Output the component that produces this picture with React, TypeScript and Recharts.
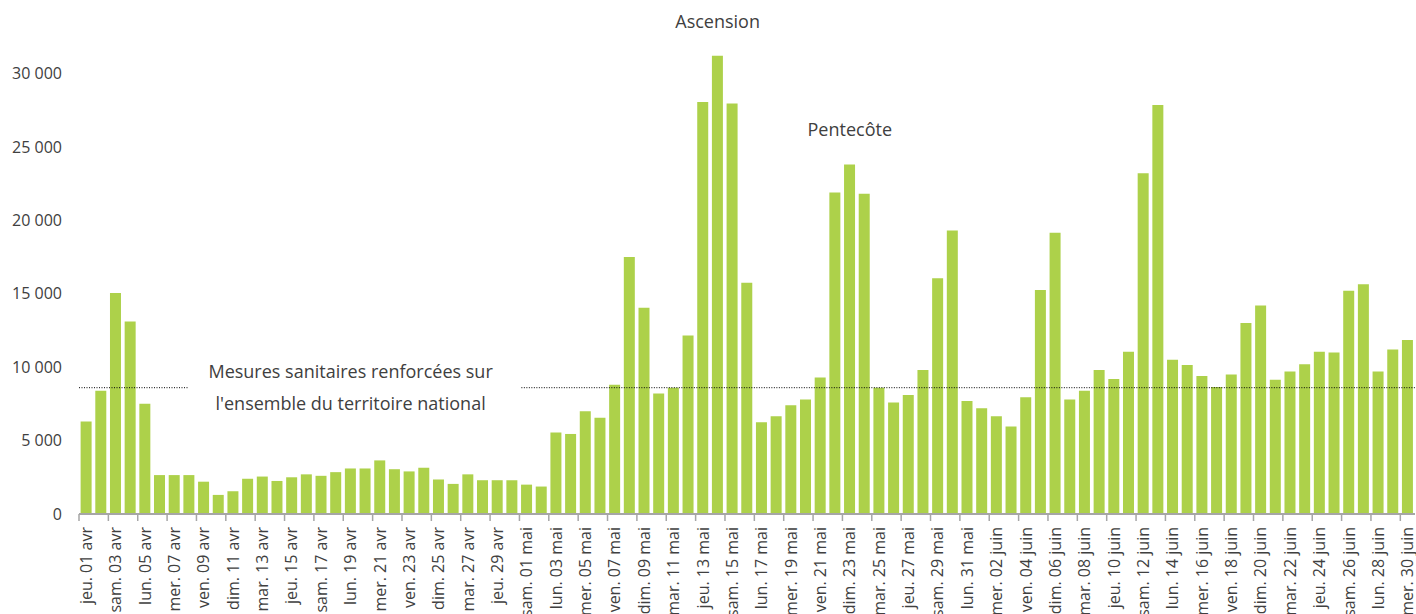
import React from "react";
import {
  BarChart, Bar, XAxis, YAxis, ReferenceLine, ReferenceDot,
} from "recharts";

// calendrier 01 avr -> 30 juin 2021
const WEEKDAYS = ["jeu.", "ven.", "sam.", "dim.", "lun.", "mar.", "mer."];
const MONTHS = [
  { name: "avr", days: 30 },
  { name: "mai", days: 31 },
  { name: "juin", days: 30 },
];

const valuesAvr = [
  6300, 8400, 15050, 13100, 7500, 2650, 2650, 2650, 2200, 1300,
  1550, 2400, 2550, 2250, 2500, 2700, 2600, 2850, 3100, 3100,
  3650, 3050, 2900, 3150, 2350, 2050, 2700, 2300, 2300, 2300,
];
const valuesMai = [
  2000, 1870, 5550, 5450, 7000, 6550, 8800, 17500, 14050, 8200,
  8600, 12150, 28050, 31200, 27950, 15750, 6250, 6650, 7400, 7800,
  9300, 21900, 23800, 21800, 8600, 7600, 8100, 9800, 16050, 19300,
  7700,
];
const valuesJuin = [
  7200, 6650, 5950, 7950, 15250, 19150, 7800, 8400, 9800, 9200,
  11050, 23200, 27850, 10500, 10150, 9400, 8650, 9500, 13000, 14200,
  9150, 9700, 10200, 11050, 11000, 15200, 15650, 9700, 11200, 11850,
];

const yTicks = [0, 5000, 10000, 15000, 20000, 25000, 30000];

// niveau de la ligne pointillée et ses deux tronçons (en positions de jours)
const mesuresLevel = 8600;
const mesuresSegA = [0, 7.4];
const mesuresSegB = [29.8, 91];

const annotations = [
  { day: "ven. 14 mai", y: 33500, lines: ["Ascension"] },
  { day: "dim. 23 mai", y: 26150, lines: ["Pentecôte"] },
  {
    day: "lun. 19 avr",
    y: mesuresLevel,
    lines: ["Mesures sanitaires renforcées sur", "l'ensemble du territoire national"],
  },
];

const labels: string[] = [];
MONTHS.forEach((m) => {
  for (let d = 1; d <= m.days; d++) {
    const wd = WEEKDAYS[labels.length % 7];
    labels.push(`${wd} ${String(d).padStart(2, "0")} ${m.name}`);
  }
});
const values = [...valuesAvr, ...valuesMai, ...valuesJuin];
const data = labels.map((label, i) => ({ label, value: values[i] }));

const WIDTH = 1416;
const HEIGHT = 614;
const LEFT = 79;
const RIGHT = 1;
const BAND = (WIDTH - LEFT - RIGHT) / data.length;
const FONT = "'Open Sans', sans-serif";
const TEXT = "#404040";
const AXIS = "#a6a6a6";

const fmt = (v: number) => String(v).replace(/\B(?=(\d{3})+(?!\d))/g, " ");

const DayTick = (props: any) => {
  const { x, y, payload } = props;
  const bx = x - BAND / 2;
  return (
    <g>
      <line x1={bx} x2={bx} y1={y} y2={y + 7} stroke={AXIS} strokeWidth={1.5} />
      <text
        x={x}
        y={y + 13}
        transform={`rotate(-90, ${x}, ${y + 13})`}
        textAnchor="end"
        dy="0.35em"
        fontSize={16}
        fontFamily={FONT}
        fill={TEXT}
      >
        {payload.value}
      </text>
    </g>
  );
};

const NoteLabel = (lines: string[]) => (props: any) => {
  const { viewBox } = props;
  const cx = viewBox.x + viewBox.width / 2;
  const cy = viewBox.y + viewBox.height / 2;
  const lh = 32;
  const y0 = cy - ((lines.length - 1) * lh) / 2;
  return (
    <text textAnchor="middle" fontSize={18} fontFamily={FONT} fill={TEXT}>
      {lines.map((l, i) => (
        <tspan key={i} x={cx} y={y0 + i * lh} dy="0.35em">
          {l}
        </tspan>
      ))}
    </text>
  );
};

export default function App() {
  return (
    <div style={{ position: "absolute", left: 0, top: 0, background: "#fff" }}>
      <BarChart
        width={WIDTH}
        height={HEIGHT}
        data={data}
        margin={{ top: 0, right: RIGHT, bottom: 0, left: 0 }}
        barCategoryGap="11%"
      >
        <XAxis
          dataKey="label"
          interval={1}
          tickLine={false}
          tickSize={0}
          tickMargin={0}
          axisLine={{ stroke: AXIS, strokeWidth: 2 }}
          tick={<DayTick />}
          height={100}
        />
        <XAxis xAxisId="num" type="number" domain={[0, 91]} allowDataOverflow hide />
        <YAxis
          width={LEFT}
          domain={[0, 35000]}
          ticks={yTicks}
          axisLine={false}
          tickLine={false}
          tickSize={0}
          tickMargin={17}
          tickFormatter={fmt}
          tick={{ fontSize: 16, fontFamily: FONT, fill: TEXT }}
        />
        <Bar dataKey="value" fill="#add14a" isAnimationActive={false} />
        <ReferenceLine
          xAxisId="num"
          ifOverflow="visible"
          segment={[
            { x: mesuresSegA[0], y: mesuresLevel },
            { x: mesuresSegA[1], y: mesuresLevel },
          ]}
          stroke="#000"
          strokeWidth={1}
          strokeDasharray="1 1.5"
        />
        <ReferenceLine
          xAxisId="num"
          ifOverflow="visible"
          segment={[
            { x: mesuresSegB[0], y: mesuresLevel },
            { x: mesuresSegB[1], y: mesuresLevel },
          ]}
          stroke="#000"
          strokeWidth={1}
          strokeDasharray="1 1.5"
        />
        {annotations.map((n, i) => (
          <ReferenceDot
            key={i}
            x={n.day}
            y={n.y}
            r={0}
            stroke="none"
            fill="none"
            label={NoteLabel(n.lines)}
          />
        ))}
      </BarChart>
    </div>
  );
}
